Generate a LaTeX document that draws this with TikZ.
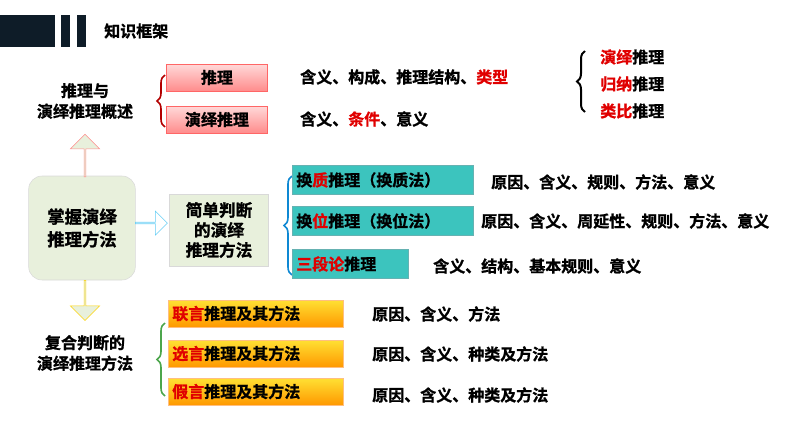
\documentclass[tikz,border=0pt]{standalone}
\usepackage{fontspec}
\setmainfont{Noto Sans CJK SC}
\newfontfamily\cjk{Noto Sans CJK SC Bold}[FakeBold=1.2]
\usetikzlibrary{shapes.arrows, decorations.pathreplacing, positioning}
\definecolor{hdark}{HTML}{0E1C28}
\definecolor{hred}{HTML}{E00000}
\definecolor{mintbg}{HTML}{E8F0DC}
\definecolor{tealbox}{HTML}{3CC4BE}
\tikzset{
  lbl/.style={font=\cjk\fontsize{12}{15}\selectfont, anchor=west, inner sep=0pt},
  redbox/.style={draw=red!60, top color=red!15, bottom color=red!45, minimum width=76pt, minimum height=20pt, font=\cjk\fontsize{12}{15}\selectfont, inner sep=0pt},
  tealcell/.style={draw=teal!60, fill=tealbox, minimum height=22pt, font=\cjk\fontsize{12}{15}\selectfont, anchor=west, inner sep=3pt},
  yelbox/.style={draw=orange!50, top color=yellow!70!orange!80, bottom color=orange!80!yellow, minimum width=131pt, minimum height=20pt, font=\cjk\fontsize{12}{15}\selectfont, anchor=west, inner sep=3pt, text width=125pt},
  mintbox/.style={fill=mintbg, draw=gray!30, align=center, font=\cjk\fontsize{13}{17}\selectfont},
  brc/.style={decorate, decoration={brace, amplitude=6pt}, line width=1.2pt},
}
\newcommand{\hl}[1]{\textcolor{hred}{#1}}
\begin{document}
\begin{tikzpicture}[x=0.75pt, y=-0.75pt]
\useasboundingbox (0,0) rectangle (794,447);
% header
\fill[hdark] (0,15) rectangle (55,47);
\fill[hdark] (61,15) rectangle (70,47);
\fill[hdark] (77,15) rectangle (86,47);
\node (title) [lbl] at (104,31) {知识框架};
% overview
\node (overview) [align=center, font=\cjk\fontsize{12}{15.5}\selectfont] at (85,101) {推理与\\演绎推理概述};
\draw[brc, draw=red!70!black] (165,127) -- (165,75) node (obrace) [midway] {};
\node (infer) [redbox] at (217,77.5) {推理};
\node (deduct) [redbox] at (217,119.5) {演绎推理};
\node (inferinfo) [lbl] at (300,77) {含义、构成、推理结构、\hl{类型}};
\node (deductinfo) [lbl] at (300,119) {含义、\hl{条件}、意义};
\draw[brc, draw=black, line width=1.5pt] (585,112) -- (585,51);
\node (kinda) [lbl] at (600,57) {\hl{演绎}推理};
\node (kindb) [lbl] at (600,84) {\hl{归纳}推理};
\node (kindc) [lbl] at (600,111) {\hl{类比}推理};
% centre
\node (master) [mintbox, rounded corners=10pt, minimum width=80pt, minimum height=78pt] at (82,228) {掌握演绎\\推理方法};
\node (uparrow) [single arrow, draw=red!45, fill=mintbg, minimum height=32pt, minimum width=22pt, single arrow head extend=3pt, rotate=90, inner sep=0pt] at (85,156) {};
\node (downarrow) [single arrow, draw=yellow!70!orange, fill=mintbg, minimum height=30pt, minimum width=22pt, single arrow head extend=3pt, rotate=-90, inner sep=0pt] at (85,300) {};
\node (rarrow) [single arrow, draw=cyan!60, fill=white, minimum height=24pt, minimum width=18pt, single arrow head extend=3pt, inner sep=0pt] at (151,223) {};
\node (simple) [mintbox, minimum width=74pt, minimum height=54pt, align=center, font=\cjk\fontsize{12.5}{15}\selectfont, inner sep=1pt] at (219,230) {简单判断\\的演绎\\推理方法};
\draw[brc, draw=cyan!70!blue, line width=1.2pt] (292,275) -- (292,176);
\node (conv) [tealcell, text width=130pt] at (292,180) {换\hl{质}推理（换质法）};
\node (obv) [tealcell, text width=130pt] at (292,221) {换\hl{位}推理（换位法）};
\node (syl) [tealcell, text width=81pt] at (292,264) {\hl{三段论}推理};
\node (convinfo) [lbl] at (491,182) {原因、含义、规则、方法、意义};
\node (obvinfo) [lbl] at (481,221) {原因、含义、周延性、规则、方法、意义};
\node (sylinfo) [lbl] at (433,266) {含义、结构、基本规则、意义};
% compound
\node (compound) [align=center, font=\cjk\fontsize{12}{15.5}\selectfont] at (85,353) {复合判断的\\演绎推理方法};
\draw[brc, draw=green!50!black!70, line width=1.2pt] (165,396) -- (165,323);
\node (conj) [yelbox] at (168,313.5) {\hl{联言}推理及其方法};
\node (disj) [yelbox] at (168,353.5) {\hl{选言}推理及其方法};
\node (hypo) [yelbox] at (168,391.5) {\hl{假言}推理及其方法};
\node (conjinfo) [lbl] at (372,314) {原因、含义、方法};
\node (disjinfo) [lbl] at (372,354) {原因、含义、种类及方法};
\node (hypoinfo) [lbl] at (372,395) {原因、含义、种类及方法};
\end{tikzpicture}
\end{document}
